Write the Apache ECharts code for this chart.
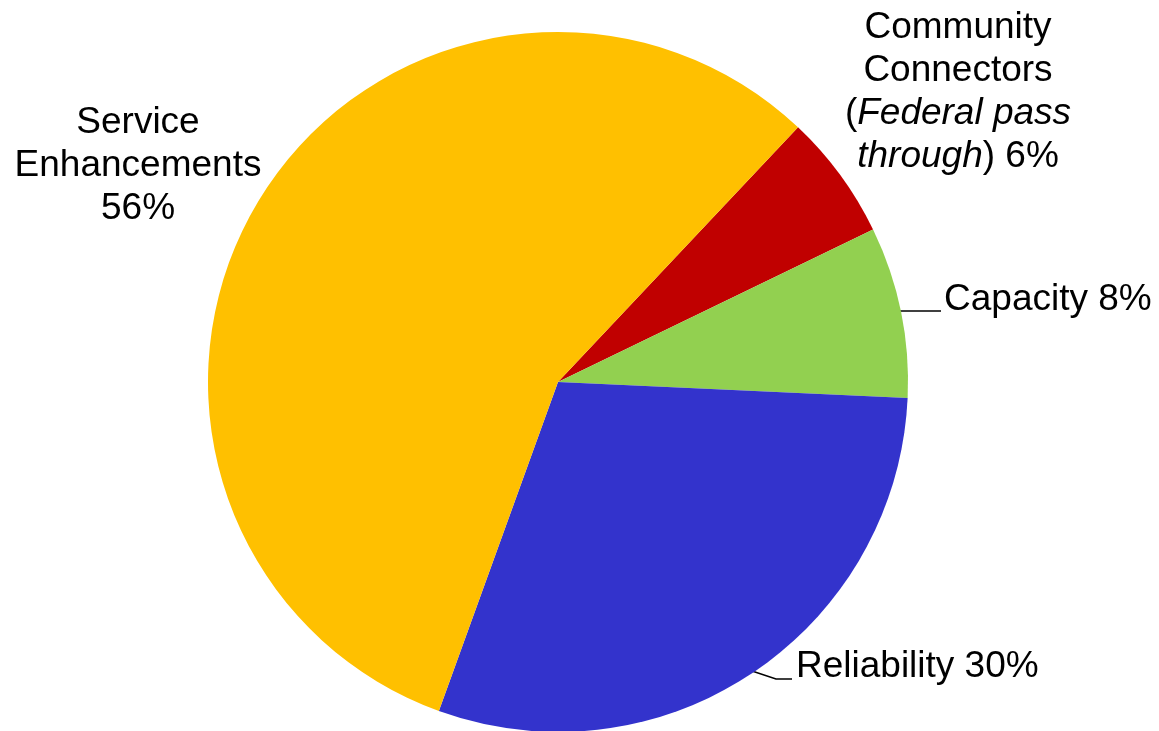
<!DOCTYPE html>
<html>
<head>
<meta charset="utf-8">
<script src="https://cdn.jsdelivr.net/npm/echarts@6/dist/echarts.min.js"></script>
<style>
  html, body { margin: 0; padding: 0; background: #fff; }
</style>
</head>
<body>
<div id="myChart1" style="width:1159px;height:731px;"></div>
<script>
  // slices, clockwise from the red one
  const names = ['Community Connectors', 'Capacity', 'Reliability', 'Service Enhancements'];
  const values = [5.8, 7.9, 29.8, 56.5];
  const labels = [
    'Community\nConnectors\n({i|Federal pass}\n{i|through}) 6%',
    'Capacity 8%',
    'Reliability 30%',
    'Service\nEnhancements\n56%'
  ];
  const colors = ['#C00000', '#92D050', '#3333CC', '#FFC000'];

  // where each label sits (x, y, align)
  const labelPos = [
    { x: 958, y: 92, align: 'center', line: null },
    { x: 944, y: 300, align: 'left', line: [[900, 311], [941, 311], [941, 311]] },
    { x: 796, y: 667, align: 'left', line: [[752, 671], [776, 679], [792, 679]] },
    { x: 138, y: 166, align: 'center', line: null }
  ];

  const chart1 = echarts.init(document.getElementById('myChart1'));
  const data = names.map((n, i) => ({
    name: n,
    value: values[i],
    itemStyle: { color: colors[i] },
    label: { formatter: labels[i] },
    labelLine: { show: labelPos[i].line !== null }
  }));

  chart1.setOption({
    animation: false,
    series: [{
      type: 'pie',
      center: [558, 382],
      radius: 350,
      startAngle: 46.7,
      clockwise: true,
      data: data,
      itemStyle: { borderWidth: 0 },
      label: {
        show: true,
        position: 'outside',
        overflow: 'none',
        width: 400,
        color: '#000',
        fontFamily: 'Liberation Sans, Arial, sans-serif',
        fontSize: 37,
        lineHeight: 43,
        rich: {
          i: {
            fontStyle: 'italic',
            fontFamily: 'Liberation Sans, Arial, sans-serif',
            fontSize: 37,
            lineHeight: 43,
            color: '#000'
          }
        }
      },
      labelLine: {
        show: true,
        lineStyle: { color: '#000', width: 1.5 }
      },
      labelLayout: function (p) {
        const lp = labelPos[p.dataIndex];
        const out = { x: lp.x, y: lp.y, align: lp.align, verticalAlign: 'middle' };
        if (lp.line) out.labelLinePoints = lp.line;
        return out;
      }
    }]
  });
</script>
</body>
</html>
